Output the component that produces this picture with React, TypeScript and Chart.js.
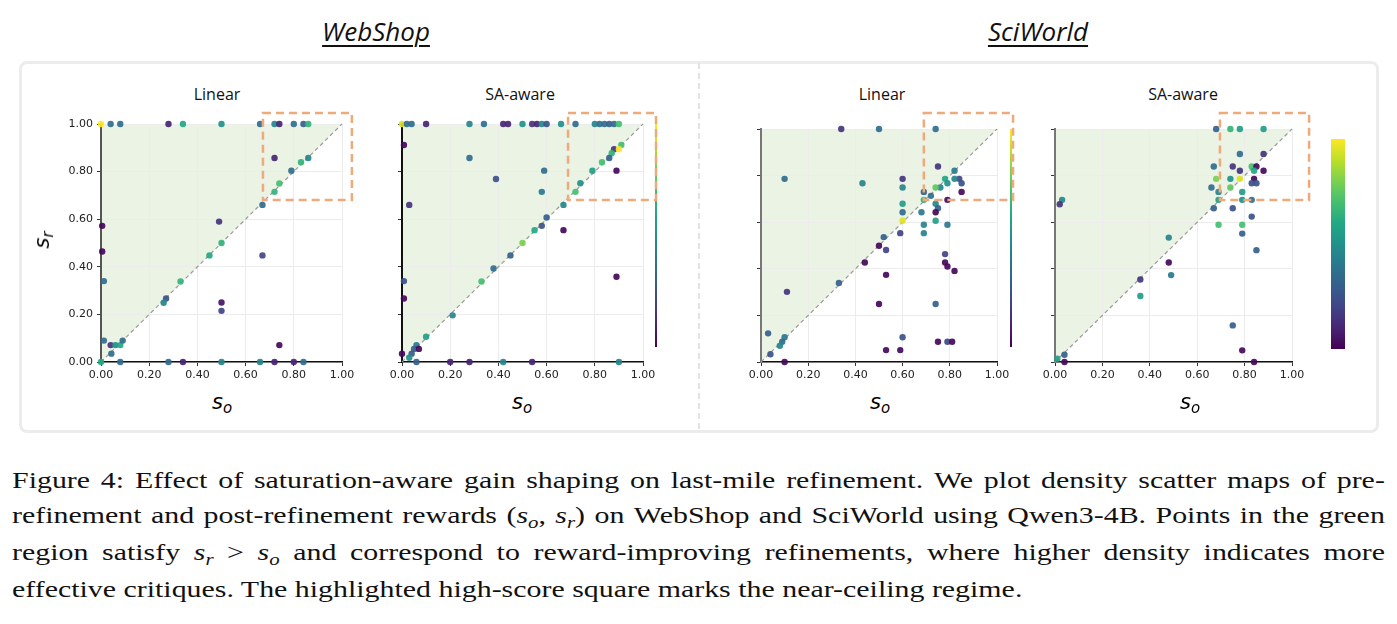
import React, { useEffect, useRef } from 'react';
import { Chart, registerables } from 'chart.js';

Chart.register(...registerables);

// ---------------- DATA ----------------
const TICK_VALUES = [0, 0.2, 0.4, 0.6, 0.8, 1.0];

// WebShop - Linear
const wsLinearSo = [0.00, 0.04, 0.08, 0.28, 0.34, 0.50, 0.66, 0.72, 0.74, 0.80, 0.84, 0.86,
  0.72, 0.83, 0.86, 0.79, 0.74, 0.72, 0.67, 0.49, 0.50, 0.45, 0.67, 0.33, 0.27, 0.26, 0.50, 0.50,
  0.005, 0.005, 0.012, 0.012, 0.04, 0.06, 0.08, 0.09, 0.043, 0.74,
  0.08, 0.28, 0.34, 0.50, 0.66, 0.72, 0.80, 0.84, 0.00];
const wsLinearSr = [1, 1, 1, 1, 1, 1, 1, 1, 1, 1, 1, 1,
  0.857, 0.839, 0.857, 0.804, 0.75, 0.715, 0.66, 0.59, 0.50, 0.448, 0.448, 0.338, 0.267, 0.249, 0.25, 0.215,
  0.572, 0.464, 0.34, 0.09, 0.071, 0.071, 0.071, 0.09, 0.035, 0.071,
  0, 0, 0, 0, 0, 0, 0, 0, 0];
const wsLinearDensity = [1.0, 0.35, 0.35, 0.1, 0.6, 0.5, 0.35, 0.45, 0.1, 0.35, 0.3, 0.65,
  0.1, 0.65, 0.45, 0.35, 0.7, 0.65, 0.35, 0.15, 0.65, 0.6, 0.2, 0.65, 0.25, 0.45, 0.05, 0.2,
  0.02, 0.02, 0.35, 0.35, 0.15, 0.5, 0.6, 0.35, 0.35, 0.02,
  0.35, 0.35, 0.1, 0.45, 0.45, 0.1, 0.1, 0.35, 0.6];

// WebShop - SA-aware
const wsAwareSo = [0.00, 0.02, 0.04, 0.10, 0.28, 0.34, 0.42, 0.44, 0.50, 0.54, 0.56, 0.58, 0.60, 0.66, 0.72, 0.80, 0.82, 0.84, 0.86, 0.88, 0.90,
  0.008, 0.28, 0.59, 0.39, 0.58, 0.03, 0.91, 0.88, 0.87, 0.86, 0.83, 0.79, 0.89, 0.74, 0.72, 0.67, 0.60, 0.58, 0.67, 0.55, 0.50,
  0.45, 0.38, 0.33, 0.21, 0.10, 0.06, 0.05, 0.07, 0.04, 0.03, 0.008, 0.008, 0.00, 0.89,
  0.06, 0.20, 0.28, 0.42, 0.54, 0.90, 0.90];
const wsAwareSr = [1, 1, 1, 1, 1, 1, 1, 1, 1, 1, 1, 1, 1, 1, 1, 1, 1, 1, 1, 1, 1,
  0.912, 0.857, 0.804, 0.769, 0.715, 0.66, 0.912, 0.894, 0.877, 0.857, 0.839, 0.804, 0.804, 0.751, 0.715, 0.66, 0.607, 0.572, 0.554, 0.554, 0.50,
  0.448, 0.393, 0.338, 0.196, 0.106, 0.071, 0.055, 0.055, 0.035, 0.018, 0.34, 0.267, 0.035, 0.358,
  0, 0, 0, 0, 0, 0, 0.894];
const wsAwareDensity = [0.95, 0.35, 0.35, 0.1, 0.45, 0.35, 0.1, 0.1, 0.5, 0.15, 0.1, 0.45, 0.25, 0.5, 0.35, 0.45, 0.35, 0.35, 0.3, 0.35, 0.7,
  0.02, 0.35, 0.35, 0.25, 0.4, 0.15, 0.7, 0.15, 0.65, 0.3, 0.7, 0.55, 0.02, 0.5, 0.7, 0.45, 0.3, 0.25, 0.02, 0.6, 0.8,
  0.3, 0.35, 0.7, 0.45, 0.55, 0.4, 0.3, 0.02, 0.3, 0.5, 0.25, 0.02, 0.02, 0.02,
  0.3, 0.1, 0.1, 0.45, 0.1, 0.45, 1.0];

// SciWorld - Linear
const swLinearSo = [0.34, 0.50, 0.74, 0.75, 0.82, 0.84, 0.85, 0.78, 0.82, 0.79, 0.76, 0.74, 0.85, 0.69, 0.72, 0.69, 0.79,
  0.10, 0.43, 0.60, 0.60, 0.60, 0.60, 0.74, 0.75, 0.68, 0.74, 0.74, 0.69, 0.79, 0.69, 0.59, 0.52, 0.50, 0.53,
  0.44, 0.78, 0.78, 0.79, 0.82, 0.53, 0.33, 0.11, 0.50, 0.74, 0.03, 0.10, 0.09, 0.08, 0.04,
  0.60, 0.75, 0.79, 0.81, 0.53, 0.59, 0.10, 0.60];
const swLinearSr = [1, 1, 1, 0.839, 0.821, 0.786, 0.767, 0.786, 0.786, 0.767, 0.749, 0.749, 0.73, 0.73, 0.713, 0.696, 0.696,
  0.786, 0.767, 0.786, 0.749, 0.679, 0.643, 0.679, 0.66, 0.643, 0.643, 0.606, 0.589, 0.589, 0.553, 0.553, 0.536, 0.499, 0.481,
  0.427, 0.463, 0.427, 0.41, 0.391, 0.374, 0.339, 0.301, 0.249, 0.249, 0.123, 0.106, 0.087, 0.07, 0.033,
  0.106, 0.087, 0.087, 0.087, 0.051, 0.051, 0.0, 0.606];
const swLinearDensity = [0.15, 0.35, 0.35, 0.15, 0.4, 0.2, 0.25, 0.6, 0.45, 0.5, 0.45, 0.75, 0.02, 0.3, 0.35, 0.65, 0.02,
  0.35, 0.45, 0.15, 0.45, 0.55, 0.35, 0.45, 0.3, 0.4, 0.02, 0.55, 0.45, 0.4, 0.45, 0.2, 0.3, 0.02, 0.2,
  0.02, 0.2, 0.02, 0.02, 0.02, 0.02, 0.3, 0.15, 0.02, 0.3, 0.3, 0.4, 0.35, 0.45, 0.25,
  0.25, 0.02, 0.2, 0.02, 0.02, 0.02, 0.02, 0.95];

// SciWorld - SA-aware
const swAwareSo = [0.68, 0.74, 0.78, 0.88, 0.78, 0.88, 0.67, 0.75, 0.83, 0.85, 0.78, 0.84, 0.88,
  0.68, 0.74, 0.84, 0.83, 0.85, 0.66, 0.74, 0.69, 0.79, 0.69, 0.79, 0.83, 0.67, 0.75, 0.83,
  0.69, 0.79, 0.79, 0.85, 0.48, 0.48, 0.49, 0.36, 0.36, 0.03, 0.02, 0.75, 0.79, 0.84, 0.04, 0.04, 0.01, 0.78];
const swAwareSr = [1, 1, 1, 1, 0.893, 0.893, 0.839, 0.839, 0.839, 0.839, 0.821, 0.821, 0.821,
  0.786, 0.786, 0.786, 0.767, 0.767, 0.749, 0.749, 0.73, 0.73, 0.696, 0.696, 0.696, 0.66, 0.66, 0.624,
  0.589, 0.589, 0.551, 0.48, 0.534, 0.427, 0.373, 0.354, 0.283, 0.696, 0.677, 0.157, 0.05, 0.0, 0.031, 0.0, 0.014, 0.786];
const swAwareDensity = [0.3, 0.65, 0.55, 0.55, 0.35, 0.15, 0.35, 0.15, 0.7, 0.02, 0.15, 0.6, 0.02,
  0.8, 0.5, 0.02, 0.25, 0.25, 0.35, 0.75, 0.45, 0.55, 0.55, 0.5, 0.35, 0.3, 0.25, 0.25,
  0.7, 0.7, 0.3, 0.3, 0.45, 0.02, 0.4, 0.15, 0.55, 0.45, 0.15, 0.3, 0.02, 0.02, 0.3, 0.02, 0.55, 0.95];

// ---------------- STYLE HELPERS ----------------
const VIRIDIS = ['#440154', '#482475', '#414487', '#355f8d', '#2a788e', '#21918c', '#22a884', '#44bf70', '#7ad151', '#bddf26', '#fde725'];

function hexToRgb(h: string) {
  return [parseInt(h.slice(1, 3), 16), parseInt(h.slice(3, 5), 16), parseInt(h.slice(5, 7), 16)];
}
function viridis(t: number) {
  const v = Math.max(0, Math.min(1, t)) * (VIRIDIS.length - 1);
  const i = Math.min(VIRIDIS.length - 2, Math.floor(v));
  const f = v - i;
  const a = hexToRgb(VIRIDIS[i]);
  const b = hexToRgb(VIRIDIS[i + 1]);
  const c = a.map((x, k) => Math.round(x + (b[k] - x) * f));
  return `rgba(${c[0]},${c[1]},${c[2]},0.92)`;
}
function viridisGradient(ctx: CanvasRenderingContext2D, top: number, bottom: number) {
  const g = ctx.createLinearGradient(0, bottom, 0, top);
  VIRIDIS.forEach((c, i) => g.addColorStop(i / (VIRIDIS.length - 1), c));
  return g;
}

const M_LEFT = 55, M_TOP = 20, M_RIGHT = 60, M_BOTTOM = 28;
const Y_W = 45, X_H = 22;

type Panel = {
  so: number[]; sr: number[]; den: number[];
  plot: { l: number; t: number; r: number; b: number };
  yLabels: boolean; yBorder: string;
  box: { x0: number; x1: number; y0: number; y1: number };
  bar?: { dx: number; w: number; dTop: number; dBottom: number };
};

const PANELS: Panel[] = [
  { so: wsLinearSo, sr: wsLinearSr, den: wsLinearDensity, plot: { l: 101, t: 124, r: 342, b: 362 }, yLabels: true, yBorder: '#555',
    box: { x0: 0.672, x1: 1.041, y0: 0.681, y1: 1.046 } },
  { so: wsAwareSo, sr: wsAwareSr, den: wsAwareDensity, plot: { l: 402, t: 124, r: 643, b: 362 }, yLabels: false, yBorder: '#111',
    box: { x0: 0.689, x1: 1.054, y0: 0.681, y1: 1.046 }, bar: { dx: 12, w: 2, dTop: 0, dBottom: 15 } },
  { so: swLinearSo, sr: swLinearSr, den: swLinearDensity, plot: { l: 761, t: 129, r: 997, b: 362 }, yLabels: false, yBorder: '#777',
    box: { x0: 0.69, x1: 1.068, y0: 0.695, y1: 1.069 }, bar: { dx: 13, w: 2, dTop: 0, dBottom: 15 } },
  { so: swAwareSo, sr: swAwareSr, den: swAwareDensity, plot: { l: 1055, t: 129, r: 1292, b: 362 }, yLabels: false, yBorder: '#777',
    box: { x0: 0.696, x1: 1.072, y0: 0.695, y1: 1.069 }, bar: { dx: 39, w: 14, dTop: 10, dBottom: 13 } },
];

function PanelChart({ p }: { p: Panel }) {
  const ref = useRef<HTMLCanvasElement>(null);
  const w = p.plot.r - p.plot.l + M_LEFT + M_RIGHT;
  const h = p.plot.b - p.plot.t + M_TOP + M_BOTTOM;
  useEffect(() => {
    if (!ref.current) return;
    const decor = {
      id: 'decor',
      beforeDraw(chart: any) {
        const { ctx } = chart;
        const x = chart.scales.x, y = chart.scales.y;
        ctx.save();
        ctx.fillStyle = '#eaf3e4';
        ctx.beginPath();
        ctx.moveTo(x.getPixelForValue(0), y.getPixelForValue(0));
        ctx.lineTo(x.getPixelForValue(0), y.getPixelForValue(1));
        ctx.lineTo(x.getPixelForValue(1), y.getPixelForValue(1));
        ctx.closePath();
        ctx.fill();
        ctx.restore();
      },
      beforeDatasetsDraw(chart: any) {
        const { ctx } = chart;
        const x = chart.scales.x, y = chart.scales.y;
        ctx.save();
        ctx.strokeStyle = '#9a9a9a';
        ctx.lineWidth = 1.2;
        ctx.setLineDash([4, 3]);
        ctx.beginPath();
        ctx.moveTo(x.getPixelForValue(0), y.getPixelForValue(0));
        ctx.lineTo(x.getPixelForValue(1), y.getPixelForValue(1));
        ctx.stroke();
        ctx.restore();
      },
      afterDatasetsDraw(chart: any) {
        const { ctx, chartArea } = chart;
        const x = chart.scales.x, y = chart.scales.y;
        ctx.save();
        if (p.bar) {
          const top = chartArea.top + p.bar.dTop;
          const bottom = chartArea.bottom - p.bar.dBottom;
          ctx.fillStyle = viridisGradient(ctx, top, bottom);
          ctx.fillRect(chartArea.right + p.bar.dx, top, p.bar.w, bottom - top);
        }
        ctx.strokeStyle = '#eeaa7b';
        ctx.lineWidth = 2.5;
        ctx.setLineDash([8, 5]);
        const x0 = x.getPixelForValue(p.box.x0), x1 = x.getPixelForValue(p.box.x1);
        const y0 = y.getPixelForValue(p.box.y0), y1 = y.getPixelForValue(p.box.y1);
        ctx.strokeRect(x0, y1, x1 - x0, y0 - y1);
        ctx.restore();
      },
    };
    const tickFont = { family: 'DejaVu Sans', size: 11 };
    const chart = new Chart(ref.current, {
      type: 'scatter',
      data: {
        datasets: [{
          data: p.so.map((v, i) => ({ x: v, y: p.sr[i] })),
          pointBackgroundColor: p.den.map(viridis),
          pointBorderWidth: 0,
          pointRadius: 3.2,
          clip: false,
        }],
      },
      options: {
        responsive: false,
        animation: false,
        devicePixelRatio: 1,
        layout: { padding: { left: M_LEFT - Y_W, top: M_TOP, right: M_RIGHT, bottom: M_BOTTOM - X_H } },
        plugins: { legend: { display: false }, tooltip: { enabled: false } },
        scales: {
          x: {
            type: 'linear', min: 0, max: 1,
            afterFit: (s: any) => { s.height = X_H; },
            afterBuildTicks: (s: any) => { s.ticks = TICK_VALUES.map((v) => ({ value: v })); },
            ticks: { font: tickFont, color: '#222', padding: 3, callback: (v: any) => Number(v).toFixed(2) },
            grid: { color: '#ececec', tickColor: '#333', tickLength: 4, lineWidth: 1 },
            border: { color: '#111', width: 1.5 },
          },
          y: {
            type: 'linear', min: 0, max: 1,
            afterFit: (s: any) => { s.width = Y_W; },
            afterBuildTicks: (s: any) => { s.ticks = TICK_VALUES.map((v) => ({ value: v })); },
            ticks: { font: tickFont, color: '#222', padding: 4, callback: (v: any) => (p.yLabels ? Number(v).toFixed(2) : '') },
            grid: { color: '#ececec', tickColor: '#333', tickLength: 4, lineWidth: 1 },
            border: { color: p.yBorder, width: 2 },
          },
        },
      },
      plugins: [decor],
    } as any);
    return () => chart.destroy();
  }, []);
  return (
    <canvas ref={ref} width={w} height={h}
      style={{ position: 'absolute', left: p.plot.l - M_LEFT, top: p.plot.t - M_TOP, width: w, height: h }} />
  );
}

const SUBTITLES = [
  { text: 'Linear', x: 217 },
  { text: 'SA-aware', x: 520 },
  { text: 'Linear', x: 882 },
  { text: 'SA-aware', x: 1183 },
];
const XLABEL_X = [222, 522, 880, 1190];

function Sub({ main, sub }: { main: string; sub: string }) {
  return (
    <span style={{ fontFamily: 'DejaVu Sans', fontStyle: 'italic', fontSize: 21, whiteSpace: 'nowrap' }}>
      {main}<span style={{ fontSize: 15, position: 'relative', top: 4 }}>{sub}</span>
    </span>
  );
}

const CAPTION_SCALE = 1.3;
const CAPTION_WIDTH = 1373;
const CAPTION_FONT: React.CSSProperties = { fontFamily: '"Liberation Serif", "Times New Roman", serif', fontSize: 23, color: '#111' };
const mi = (s: string, sub: string) => (
  <span><i>{s}</i><span style={{ fontSize: 16, position: 'relative', top: 5 }}><i>{sub}</i></span></span>
);

const words = (s: string) => s.split(' ').filter((w) => w.length > 0);

const CAPTION_LINES: React.ReactNode[][] = [
  words('Figure 4: Effect of saturation-aware gain shaping on last-mile refinement. We plot density scatter maps of pre-'),
  [...words('refinement and post-refinement rewards'), <>({mi('s', 'o')},</>, <>{mi('s', 'r')})</>,
    ...words('on WebShop and SciWorld using Qwen3-4B. Points in the green')],
  [...words('region satisfy'), mi('s', 'r'), '>', mi('s', 'o'),
    ...words('and correspond to reward-improving refinements, where higher density indicates more')],
];
const CAPTION_LAST = 'effective critiques. The highlighted high-score square marks the near-ceiling regime.';

export default function App() {
  return (
    <div style={{ position: 'absolute', left: 0, top: 0, width: 1397, height: 624, background: '#fff', overflow: 'hidden' }}>
      {/* headers */}
      {[{ t: 'WebShop', x: 376 }, { t: 'SciWorld', x: 1038 }].map((hd) => (
        <div key={hd.t} style={{ position: 'absolute', left: hd.x - 100, width: 200, top: 13, textAlign: 'center',
          fontFamily: '"Open Sans", sans-serif', fontStyle: 'italic', fontSize: 26, color: '#111',
          textDecoration: 'underline', textDecorationThickness: 2, textUnderlineOffset: 4 }}>{hd.t}</div>
      ))}
      {/* outer frame */}
      <div style={{ position: 'absolute', left: 19, top: 61, width: 1354, height: 366, border: '3px solid #ececec', borderRadius: 8 }} />
      <div style={{ position: 'absolute', left: 698, top: 63, height: 366, borderLeft: '2px dashed #e2e2e2' }} />
      {/* subtitles */}
      {SUBTITLES.map((s, i) => (
        <div key={i} style={{ position: 'absolute', left: s.x - 80, width: 160, top: 83, textAlign: 'center',
          fontFamily: '"Open Sans", sans-serif', fontSize: 16, color: '#111' }}>{s.text}</div>
      ))}
      {PANELS.map((p, i) => <PanelChart key={i} p={p} />)}
      {/* axis titles */}
      <div style={{ position: 'absolute', left: 42, top: 240, transform: 'translate(-50%, -50%) rotate(-90deg)' }}>
        <Sub main="s" sub="r" />
      </div>
      {XLABEL_X.map((x, i) => (
        <div key={i} style={{ position: 'absolute', left: x, top: 402, transform: 'translate(-50%, -50%)' }}>
          <Sub main="s" sub="o" />
        </div>
      ))}
      {/* caption */}
      <div style={{ position: 'absolute', left: 12, top: 463, width: CAPTION_WIDTH / CAPTION_SCALE, lineHeight: '35px',
        transform: `scaleX(${CAPTION_SCALE})`, transformOrigin: '0 0', ...CAPTION_FONT }}>
        {CAPTION_LINES.map((line, li) => (
          <div key={li} style={{ display: 'flex', justifyContent: 'space-between', whiteSpace: 'nowrap' }}>
            {line.map((t, ti) => <span key={ti}>{t}</span>)}
          </div>
        ))}
        <div style={{ whiteSpace: 'nowrap' }}>{CAPTION_LAST}</div>
      </div>
    </div>
  );
}
